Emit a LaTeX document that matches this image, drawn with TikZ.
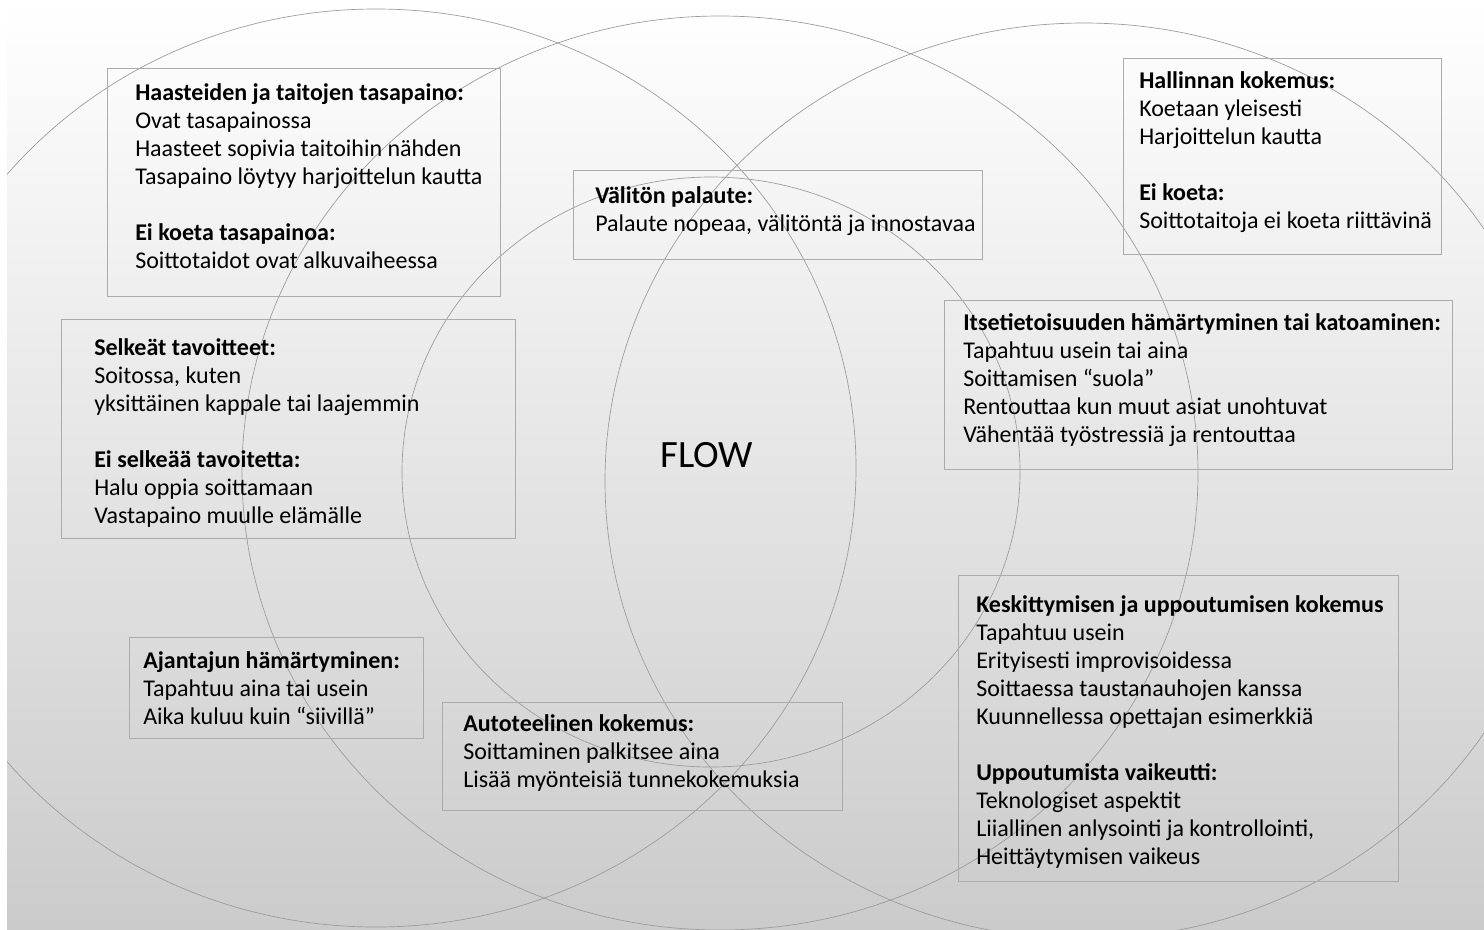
\documentclass[tikz,border=0pt]{standalone}
\usepackage{fontspec}
\setmainfont{Carlito}
\definecolor{arcgray}{HTML}{9A9A9A}
\definecolor{boxgray}{HTML}{ABABAB}
\definecolor{bgbottom}{HTML}{CBCBCB}
\newcommand{\boxtext}[1]{\parbox[t]{520pt}{\raggedright\fontsize{18pt}{21pt}\selectfont #1}}
\begin{document}
\begin{tikzpicture}[x=0.75pt,y=-0.75pt,
  arcline/.style={draw=arcgray, line width=0.5pt},
  frame/.style={draw=boxgray, line width=0.75pt},
  txt/.style={anchor=base west, inner sep=0pt, text=black}]
\useasboundingbox (0,0) rectangle (1484,929);
\fill[white] (0,0) rectangle (1484,929);
\shade[top color=white, bottom color=bgbottom] (7,0) rectangle (1484,929);
\begin{scope}
  \clip (7,0) rectangle (1484,929);
  \draw[arcline] (376,468) ellipse [x radius=360pt, y radius=344.25pt];
  \draw[arcline] (720,473) ellipse [x radius=358.5pt, y radius=342.75pt];
  \draw[arcline] (1084,481) ellipse [x radius=359.25pt, y radius=343.5pt];
  \draw[arcline] (711,472) ellipse [x radius=231.75pt, y radius=221.25pt];
\end{scope}
% frames
\draw[frame] (107,68) rectangle (500,296);
\draw[frame] (1123,58) rectangle (1441,254);
\draw[frame] (573,170) rectangle (982,259);
\draw[frame] (944,300) rectangle (1452,469);
\draw[frame] (61,319) rectangle (515,538);
\draw[frame] (129,637) rectangle (423,738);
\draw[frame] (442,702) rectangle (842,810);
\draw[frame] (958,575) rectangle (1398,881);
% texts
\node[txt] (t1) at (135,100.5) {\boxtext{\textbf{Haasteiden ja taitojen tasapaino:}\\
Ovat tasapainossa\\
Haasteet sopivia taitoihin nähden\\
Tasapaino löytyy harjoittelun kautta\\[21pt]
\textbf{Ei koeta tasapainoa:}\\
Soittotaidot ovat alkuvaiheessa}};
\node[txt] (t2) at (1139,88.5) {\boxtext{\textbf{Hallinnan kokemus:}\\
Koetaan yleisesti\\
Harjoittelun kautta\\[21pt]
\textbf{Ei koeta:}\\
Soittotaitoja ei koeta riittävinä}};
\node[txt] (t3) at (595,203.5) {\boxtext{\textbf{Välitön palaute:}\\
Palaute nopeaa, välitöntä ja innostavaa}};
\node[txt] (t4) at (963,330.5) {\boxtext{\textbf{Itsetietoisuuden hämärtyminen tai katoaminen:}\\
Tapahtuu usein tai aina\\
Soittamisen “suola”\\
Rentouttaa kun muut asiat unohtuvat\\
Vähentää työstressiä ja rentouttaa}};
\node[txt] (t5) at (94,355.5) {\boxtext{\textbf{Selkeät tavoitteet:}\\
Soitossa, kuten\\
yksittäinen kappale tai laajemmin\\[21pt]
\textbf{Ei selkeää tavoitetta:}\\
Halu oppia soittamaan\\
Vastapaino muulle elämälle}};
\node[txt] (t6) at (143,668.5) {\boxtext{\textbf{Ajantajun hämärtyminen:}\\
Tapahtuu aina tai usein\\
Aika kuluu kuin “siivillä”}};
\node[txt] (t7) at (463,731.5) {\boxtext{\textbf{Autoteelinen kokemus:}\\
Soittaminen palkitsee aina\\
Lisää myönteisiä tunnekokemuksia}};
\node[txt] (t8) at (976,612.5) {\boxtext{\textbf{Keskittymisen ja uppoutumisen kokemus}\\
Tapahtuu usein\\
Erityisesti improvisoidessa\\
Soittaessa taustanauhojen kanssa\\
Kuunnellessa opettajan esimerkkiä\\[21pt]
\textbf{Uppoutumista vaikeutti:}\\
Teknologiset aspektit\\
Liiallinen anlysointi ja kontrollointi,\\
Heittäytymisen vaikeus}};
\node[inner sep=0pt, font=\fontsize{29pt}{35pt}\selectfont] (flow) at (707,455) {FLOW};
\end{tikzpicture}
\end{document}
